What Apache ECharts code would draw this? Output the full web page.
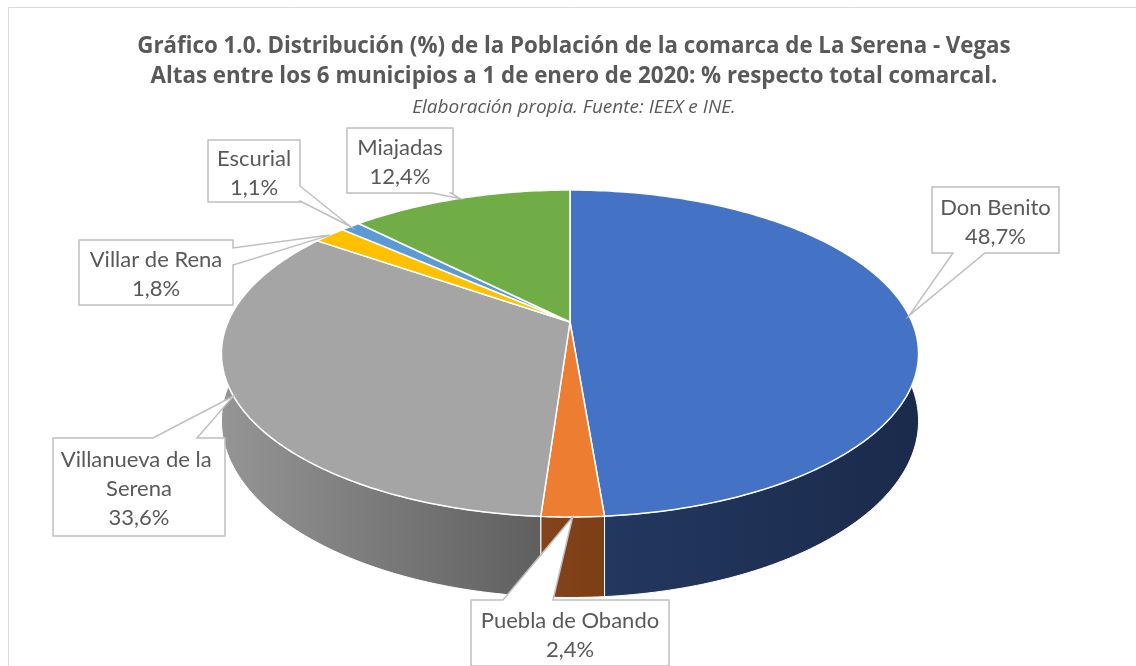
<!DOCTYPE html>
<html>
<head>
<meta charset="utf-8">
<script src="https://cdn.jsdelivr.net/npm/echarts@6/dist/echarts.min.js"></script>
<style>
  html, body { margin: 0; padding: 0; background: #fff; }
  #chart { width: 1136px; height: 666px; }
</style>
</head>
<body>
<div id="chart"></div>
<script>
// datos
const categories = ['Don Benito', 'Puebla de Obando', 'Villanueva de la Serena', 'Villar de Rena', 'Escurial', 'Miajadas'];
const values = [48.7, 2.4, 33.6, 1.8, 1.1, 12.4];

const titleLines = [
  'Gráfico 1.0. Distribución (%) de la Población de la comarca de La Serena - Vegas',
  'Altas entre los 6 municipios a 1 de enero de 2020: % respecto total comarcal.'
];
const subtitle = 'Elaboración propia. Fuente: IEEX e INE.';

// estilos
const topColors = ['#4472c4', '#ed7d31', '#a5a5a5', '#ffc000', '#5b9bd5', '#70ad47'];
const wallColors = [
  ['#23385f', '#1a2a4b'],
  ['#84431b', '#7c3e17'],
  ['#959595', '#5f5f5f'],
  ['#b38600', '#9e7700'],
  ['#3f6d96', '#345f88'],
  ['#4e7a32', '#436a2a']
];
const FONT = 'Lato';
const TITLE_FONT = 'Open Sans';
const TXT = '#595959';

// cajas de las etiquetas: [x, y, w, h, lado, a, b]
const labelBoxes = [
  [932, 187, 127, 66, 'bottom', 953, 985],
  [471, 600, 198, 66, 'top', 503, 553],
  [53, 438, 172, 98, 'top', 153, 197],
  [79, 240, 154, 65, 'right', 248, 265],
  [208, 140, 92, 62, 'right', 186, 201],
  [347, 128, 106, 65, 'bottom', 432, 451]
];

// proyeccion del disco inclinado (perspectiva)
const CX = 570, CY = 322, RX = 342, RY = 157.4, PERSP = -0.1927, DEPTH = 65;
function project(theta, drop) {
  const u = Math.sin(theta), v = -Math.cos(theta);
  const d = 1 + PERSP * v;
  return [CX + RX * u / d, CY + RY * v / d + drop / d];
}
function arc(a0, a1, drop) {
  const pts = [];
  const n = Math.max(2, Math.ceil((a1 - a0) / (Math.PI / 180)));
  for (let k = 0; k <= n; k++) pts.push(project(a0 + (a1 - a0) * k / n, drop));
  return pts;
}

const total = values.reduce((a, b) => a + b, 0);
const starts = [];
let acc = 0;
values.forEach(v => { starts.push(acc / total * 2 * Math.PI); acc += v; });
const angle = i => [starts[i], starts[i] + values[i] / total * 2 * Math.PI];

function callout(box, tip) {
  const [x, y, w, h, side, a, b] = box;
  let pts;
  if (side === 'top') {
    pts = [[x, y], [a, y], tip, [b, y], [x + w, y], [x + w, y + h], [x, y + h]];
  } else if (side === 'right') {
    pts = [[x, y], [x + w, y], [x + w, a], tip, [x + w, b], [x + w, y + h], [x, y + h]];
  } else {
    pts = [[x, y], [x + w, y], [x + w, y + h], [b, y + h], tip, [a, y + h], [x, y + h]];
  }
  return pts;
}

function renderWall(params) {
  const i = params.dataIndex;
  let [a0, a1] = angle(i);
  a0 = Math.max(a0, Math.PI * 80 / 180);
  a1 = Math.min(a1, Math.PI * 280 / 180);
  if (a0 >= a1) return null;
  const pts = arc(a0, a1, 0).concat(arc(a0, a1, DEPTH).reverse());
  return {
    type: 'polygon',
    shape: { points: pts },
    style: {
      fill: new echarts.graphic.LinearGradient(0, 0, 1, 0, [
        { offset: 0, color: wallColors[i][0] },
        { offset: 1, color: wallColors[i][1] }
      ]),
      stroke: '#ffffff',
      lineWidth: 1
    }
  };
}

function renderTop(params, api) {
  const i = params.dataIndex;
  const [a0, a1] = angle(i);
  const pts = [[CX, CY]].concat(arc(a0, a1, 0));
  const tip = project((a0 + a1) / 2, 0);
  const box = labelBoxes[i];
  const label = categories[i] + '\n' + api.value(0).toFixed(1).replace('.', ',') + '%';
  return {
    type: 'group',
    children: [
      {
        type: 'polygon',
        shape: { points: pts },
        style: { fill: topColors[i], stroke: '#ffffff', lineWidth: 1.5 }
      },
      {
        type: 'polygon',
        z2: 50,
        shape: { points: callout(box, tip) },
        style: { fill: '#ffffff', stroke: '#bfbfbf', lineWidth: 1.5 }
      },
      {
        type: 'text',
        z2: 60,
        x: box[0] + box[2] / 2,
        y: box[1] + box[3] / 2 + 2,
        style: {
          text: label,
          width: box[2] - 8,
          overflow: 'break',
          align: 'center',
          verticalAlign: 'middle',
          fontFamily: FONT,
          fontSize: 22,
          lineHeight: 29,
          fill: TXT
        }
      }
    ]
  };
}

const seriesData = values.map((v, i) => ({ name: categories[i], value: v }));

const chart = echarts.init(document.getElementById('chart'));
chart.setOption({
  backgroundColor: '#ffffff',
  animation: false,
  graphic: [
    {
      type: 'rect', silent: true,
      shape: { x: 8.5, y: 7.5, width: 1200, height: 700 },
      style: { fill: 'none', stroke: '#d9d9d9', lineWidth: 1 }
    },
    {
      type: 'text', x: 574, y: 47,
      style: { text: titleLines[0], align: 'center', verticalAlign: 'middle', fontFamily: TITLE_FONT, fontWeight: 'bold', fontSize: 22.3, fill: TXT }
    },
    {
      type: 'text', x: 574, y: 77,
      style: { text: titleLines[1], align: 'center', verticalAlign: 'middle', fontFamily: TITLE_FONT, fontWeight: 'bold', fontSize: 22.3, fill: TXT }
    },
    {
      type: 'text', x: 574, y: 108,
      style: { text: subtitle, align: 'center', verticalAlign: 'middle', fontFamily: TITLE_FONT, fontStyle: 'italic', fontSize: 19, fill: TXT }
    }
  ],
  series: [
    { type: 'custom', coordinateSystem: 'none', renderItem: renderWall, data: seriesData, silent: true },
    { type: 'custom', coordinateSystem: 'none', renderItem: renderTop, data: seriesData, silent: true }
  ]
});
</script>
</body>
</html>
